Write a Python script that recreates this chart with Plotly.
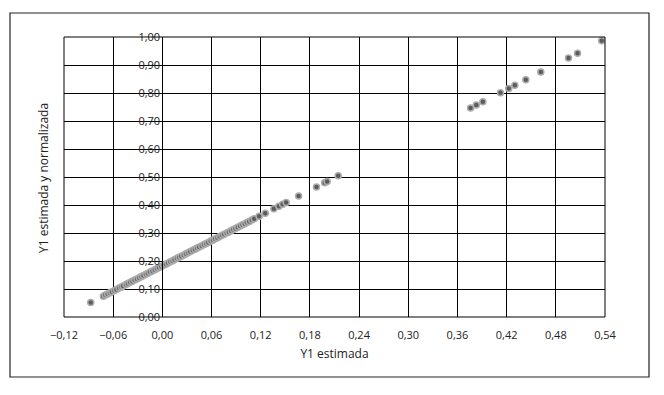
import plotly.graph_objects as go

# Estimated Y1 (x) and estimated+normalized Y1 (y)
y1_estimada = [
    -0.0874, -0.0720, -0.0695, -0.0668, -0.0640, -0.0615, -0.0585, -0.0560, -0.0528, -0.0500,
    -0.0478, -0.0445, -0.0420, -0.0392, -0.0365, -0.0338, -0.0310, -0.0282, -0.0255, -0.0230,
    -0.0200, -0.0175, -0.0148, -0.0120, -0.0092, -0.0065, -0.0040, -0.0012, 0.0015, 0.0042,
    0.0070, 0.0098, 0.0125, 0.0150, 0.0180, 0.0205, 0.0232, 0.0262, 0.0288, 0.0315,
    0.0340, 0.0370, 0.0398, 0.0425, 0.0450, 0.0480, 0.0508, 0.0535, 0.0560, 0.0590,
    0.0618, 0.0645, 0.0672, 0.0700, 0.0728, 0.0755, 0.0785, 0.0810, 0.0838, 0.0865,
    0.0892, 0.0920, 0.0950, 0.0978, 0.1005, 0.1032, 0.1060, 0.1090, 0.1120, 0.1180,
    0.1255, 0.1360, 0.1422, 0.1467, 0.1510, 0.1662, 0.1880, 0.1980, 0.2010, 0.2145,
    0.3760, 0.3830, 0.3910, 0.4125, 0.4226, 0.4300, 0.4434, 0.4617, 0.4955, 0.5065, 0.5360,
]
y1_normalizada = [
    0.0514, 0.0745, 0.0783, 0.0823, 0.0865, 0.0903, 0.0948, 0.0985, 0.1033, 0.1075,
    0.1108, 0.1158, 0.1195, 0.1237, 0.1278, 0.1318, 0.1360, 0.1402, 0.1443, 0.1480,
    0.1525, 0.1563, 0.1603, 0.1645, 0.1687, 0.1728, 0.1765, 0.1807, 0.1848, 0.1888,
    0.1930, 0.1972, 0.2013, 0.2050, 0.2095, 0.2133, 0.2173, 0.2218, 0.2257, 0.2298,
    0.2335, 0.2380, 0.2422, 0.2463, 0.2500, 0.2545, 0.2587, 0.2628, 0.2665, 0.2710,
    0.2752, 0.2793, 0.2833, 0.2875, 0.2917, 0.2958, 0.3003, 0.3040, 0.3082, 0.3123,
    0.3163, 0.3205, 0.3250, 0.3292, 0.3333, 0.3373, 0.3415, 0.3460, 0.3505, 0.3595,
    0.3708, 0.3865, 0.3958, 0.4026, 0.4090, 0.4318, 0.4645, 0.4795, 0.4840, 0.5043,
    0.7465, 0.7570, 0.7690, 0.8010, 0.8160, 0.8275, 0.8476, 0.8750, 0.9250, 0.9420, 0.9865,
]

x_title = "Y1 estimada"
y_title = "Y1 estimada y normalizada"

W, H = 664, 395
OFF = 8                      # page body margin offset
PL, PT = 64, 37              # plot-area top-left as seen on the page
pw, ph = 541, 280            # plot-area size
L, T = PL - OFF, PT - OFF
R, B = W - L - pw, H - T - ph
font_family = "Open Sans, Noto Sans, sans-serif"
txt = "#222222"

fig = go.Figure()
fig.add_trace(go.Scatter(
    x=y1_estimada, y=y1_normalizada, mode="markers",
    marker=dict(size=6, color="#5c5c5c", line=dict(color="#acacac", width=1.5)),
    showlegend=False, hoverinfo="x+y",
))

y_axis_pos = (0 - (-0.12)) / 0.66

def px_x(p):
    return (p - PL) / pw

def px_y(p):
    return (PT + ph - p) / ph

fig.update_layout(
    width=W, height=H,
    margin=dict(l=L, r=R, t=T, b=B),
    paper_bgcolor="white", plot_bgcolor="white",
    separators=", ",
    font=dict(family=font_family, size=11, color=txt),
    xaxis=dict(
        range=[-0.12, 0.54], tick0=-0.12, dtick=0.06, tickformat=".2f",
        showgrid=True, gridcolor="black", gridwidth=1, zeroline=False,
        showline=False, ticks="", ticklabelstandoff=10,
        title=dict(text=x_title, standoff=8, font=dict(size=12, color=txt)),
        fixedrange=True,
    ),
    yaxis=dict(
        range=[0, 1], tick0=0, dtick=0.1, tickformat=".2f",
        showgrid=True, gridcolor="black", gridwidth=1, zeroline=False,
        anchor="free", position=y_axis_pos,
        showline=True, linecolor="black", linewidth=1, ticks="",
        fixedrange=True,
    ),
    annotations=[dict(
        text=y_title, textangle=-90, showarrow=False,
        xref="paper", yref="paper",
        x=px_x(43), y=px_y(178),
        xanchor="center", yanchor="middle",
        font=dict(size=12, color=txt),
    )],
    shapes=[
        dict(type="rect", xref="paper", yref="paper", x0=0, x1=1, y0=0, y1=1,
             line=dict(color="black", width=1), layer="above"),
        dict(type="rect", xref="paper", yref="paper",
             x0=px_x(10), x1=px_x(649),
             y0=px_y(377), y1=px_y(13),
             line=dict(color="#222222", width=1.2), layer="below"),
    ],
)

fig.write_html("out.html")
